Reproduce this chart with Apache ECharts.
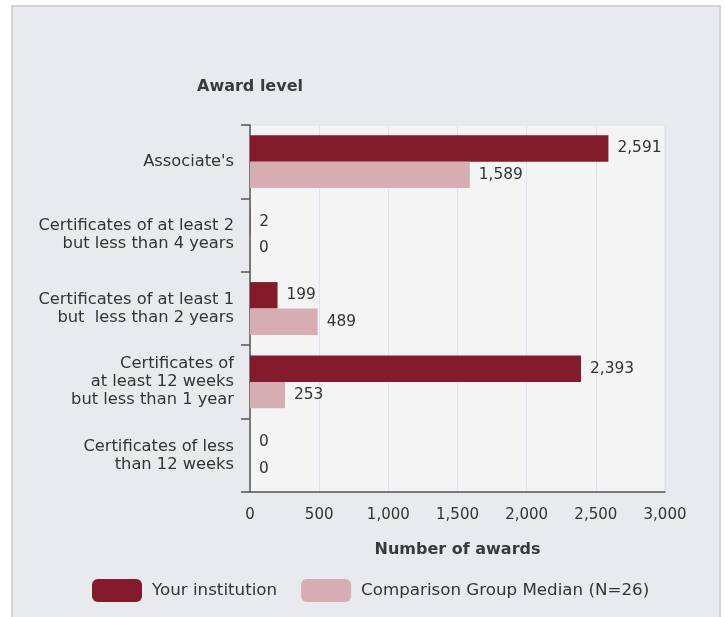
<!DOCTYPE html>
<html><head><meta charset="utf-8">
<script src="https://cdn.jsdelivr.net/npm/echarts@6/dist/echarts.min.js"></script>
<style>html,body{margin:0;padding:0;background:#fff}#c{width:726px;height:617px}</style>
</head><body><div id="c"></div>
<script>
const categories = [
  "Associate's",
  "Certificates of at least 2\nbut less than 4 years",
  "Certificates of at least 1\nbut  less than 2 years",
  "Certificates of\nat least 12 weeks\nbut less than 1 year",
  "Certificates of less\nthan 12 weeks"
];
const yourInstitution = [2591, 2, 199, 2393, 0];
const comparisonMedian = [1589, 0, 489, 253, 0];
const seriesNames = ["Your institution", "Comparison Group Median (N=26)"];
const xTicks = { min: 0, max: 3000, interval: 500 };

const FONT = '"DejaVu Sans"';
const fmt = v => v.toLocaleString('en-US');
const chart = echarts.init(document.getElementById('c'));
chart.setOption({
  animation: false,
  textStyle: { fontFamily: FONT },
  graphic: [{
    type: 'rect', z: -10, silent: true,
    shape: { x: 12, y: 6, width: 708, height: 620 },
    style: { fill: '#e9eaee', stroke: '#d4d4d4', lineWidth: 2 }
  }],
  title: {
    text: 'Award level', left: 192, top: 74,
    textStyle: { fontFamily: FONT, fontSize: 16, fontWeight: 'bold', color: '#3a3a3a' }
  },
  legend: {
    data: seriesNames, left: 87, top: 574,
    icon: 'roundRect', itemWidth: 50, itemHeight: 23, itemGap: 24,
    textStyle: { fontFamily: FONT, fontSize: 16.7, color: '#333', padding: [0, 0, 0, 5] }
  },
  grid: {
    left: 250, right: 61, top: 125, bottom: 125,
    show: true, backgroundColor: '#f4f4f4', borderColor: '#e2e2e2', borderWidth: 1
  },
  xAxis: {
    type: 'value', min: xTicks.min, max: xTicks.max, interval: xTicks.interval,
    name: 'Number of awards', nameLocation: 'middle', nameGap: 50,
    nameTextStyle: { fontFamily: FONT, fontSize: 16, fontWeight: 'bold', color: '#3a3a3a' },
    axisLine: { show: true, lineStyle: { color: '#555', width: 1.5 } },
    axisTick: { show: false },
    axisLabel: { margin: 16, fontSize: 15, color: '#333', formatter: fmt },
    splitLine: { show: true, lineStyle: { color: '#dce2ee' } }
  },
  yAxis: {
    type: 'category', data: categories, inverse: true,
    axisLine: { show: true, lineStyle: { color: '#555', width: 1.5 } },
    axisTick: { show: true, length: 9, lineStyle: { color: '#555', width: 1.5 } },
    axisLabel: { margin: 16, fontSize: 16.3, lineHeight: 18, color: '#333', align: 'right' },
    splitLine: { show: false }
  },
  series: [
    {
      name: seriesNames[0], type: 'bar', data: yourInstitution,
      barGap: '0%', barCategoryGap: '28%',
      itemStyle: { color: '#841b2d' },
      label: { show: true, position: 'right', distance: 9, fontSize: 15.4, color: '#333', formatter: p => fmt(p.value) }
    },
    {
      name: seriesNames[1], type: 'bar', data: comparisonMedian,
      barGap: '0%', barCategoryGap: '28%',
      itemStyle: { color: '#d6adb3' },
      label: { show: true, position: 'right', distance: 9, fontSize: 15.4, color: '#333', formatter: p => fmt(p.value) }
    }
  ]
});
</script></body></html>
